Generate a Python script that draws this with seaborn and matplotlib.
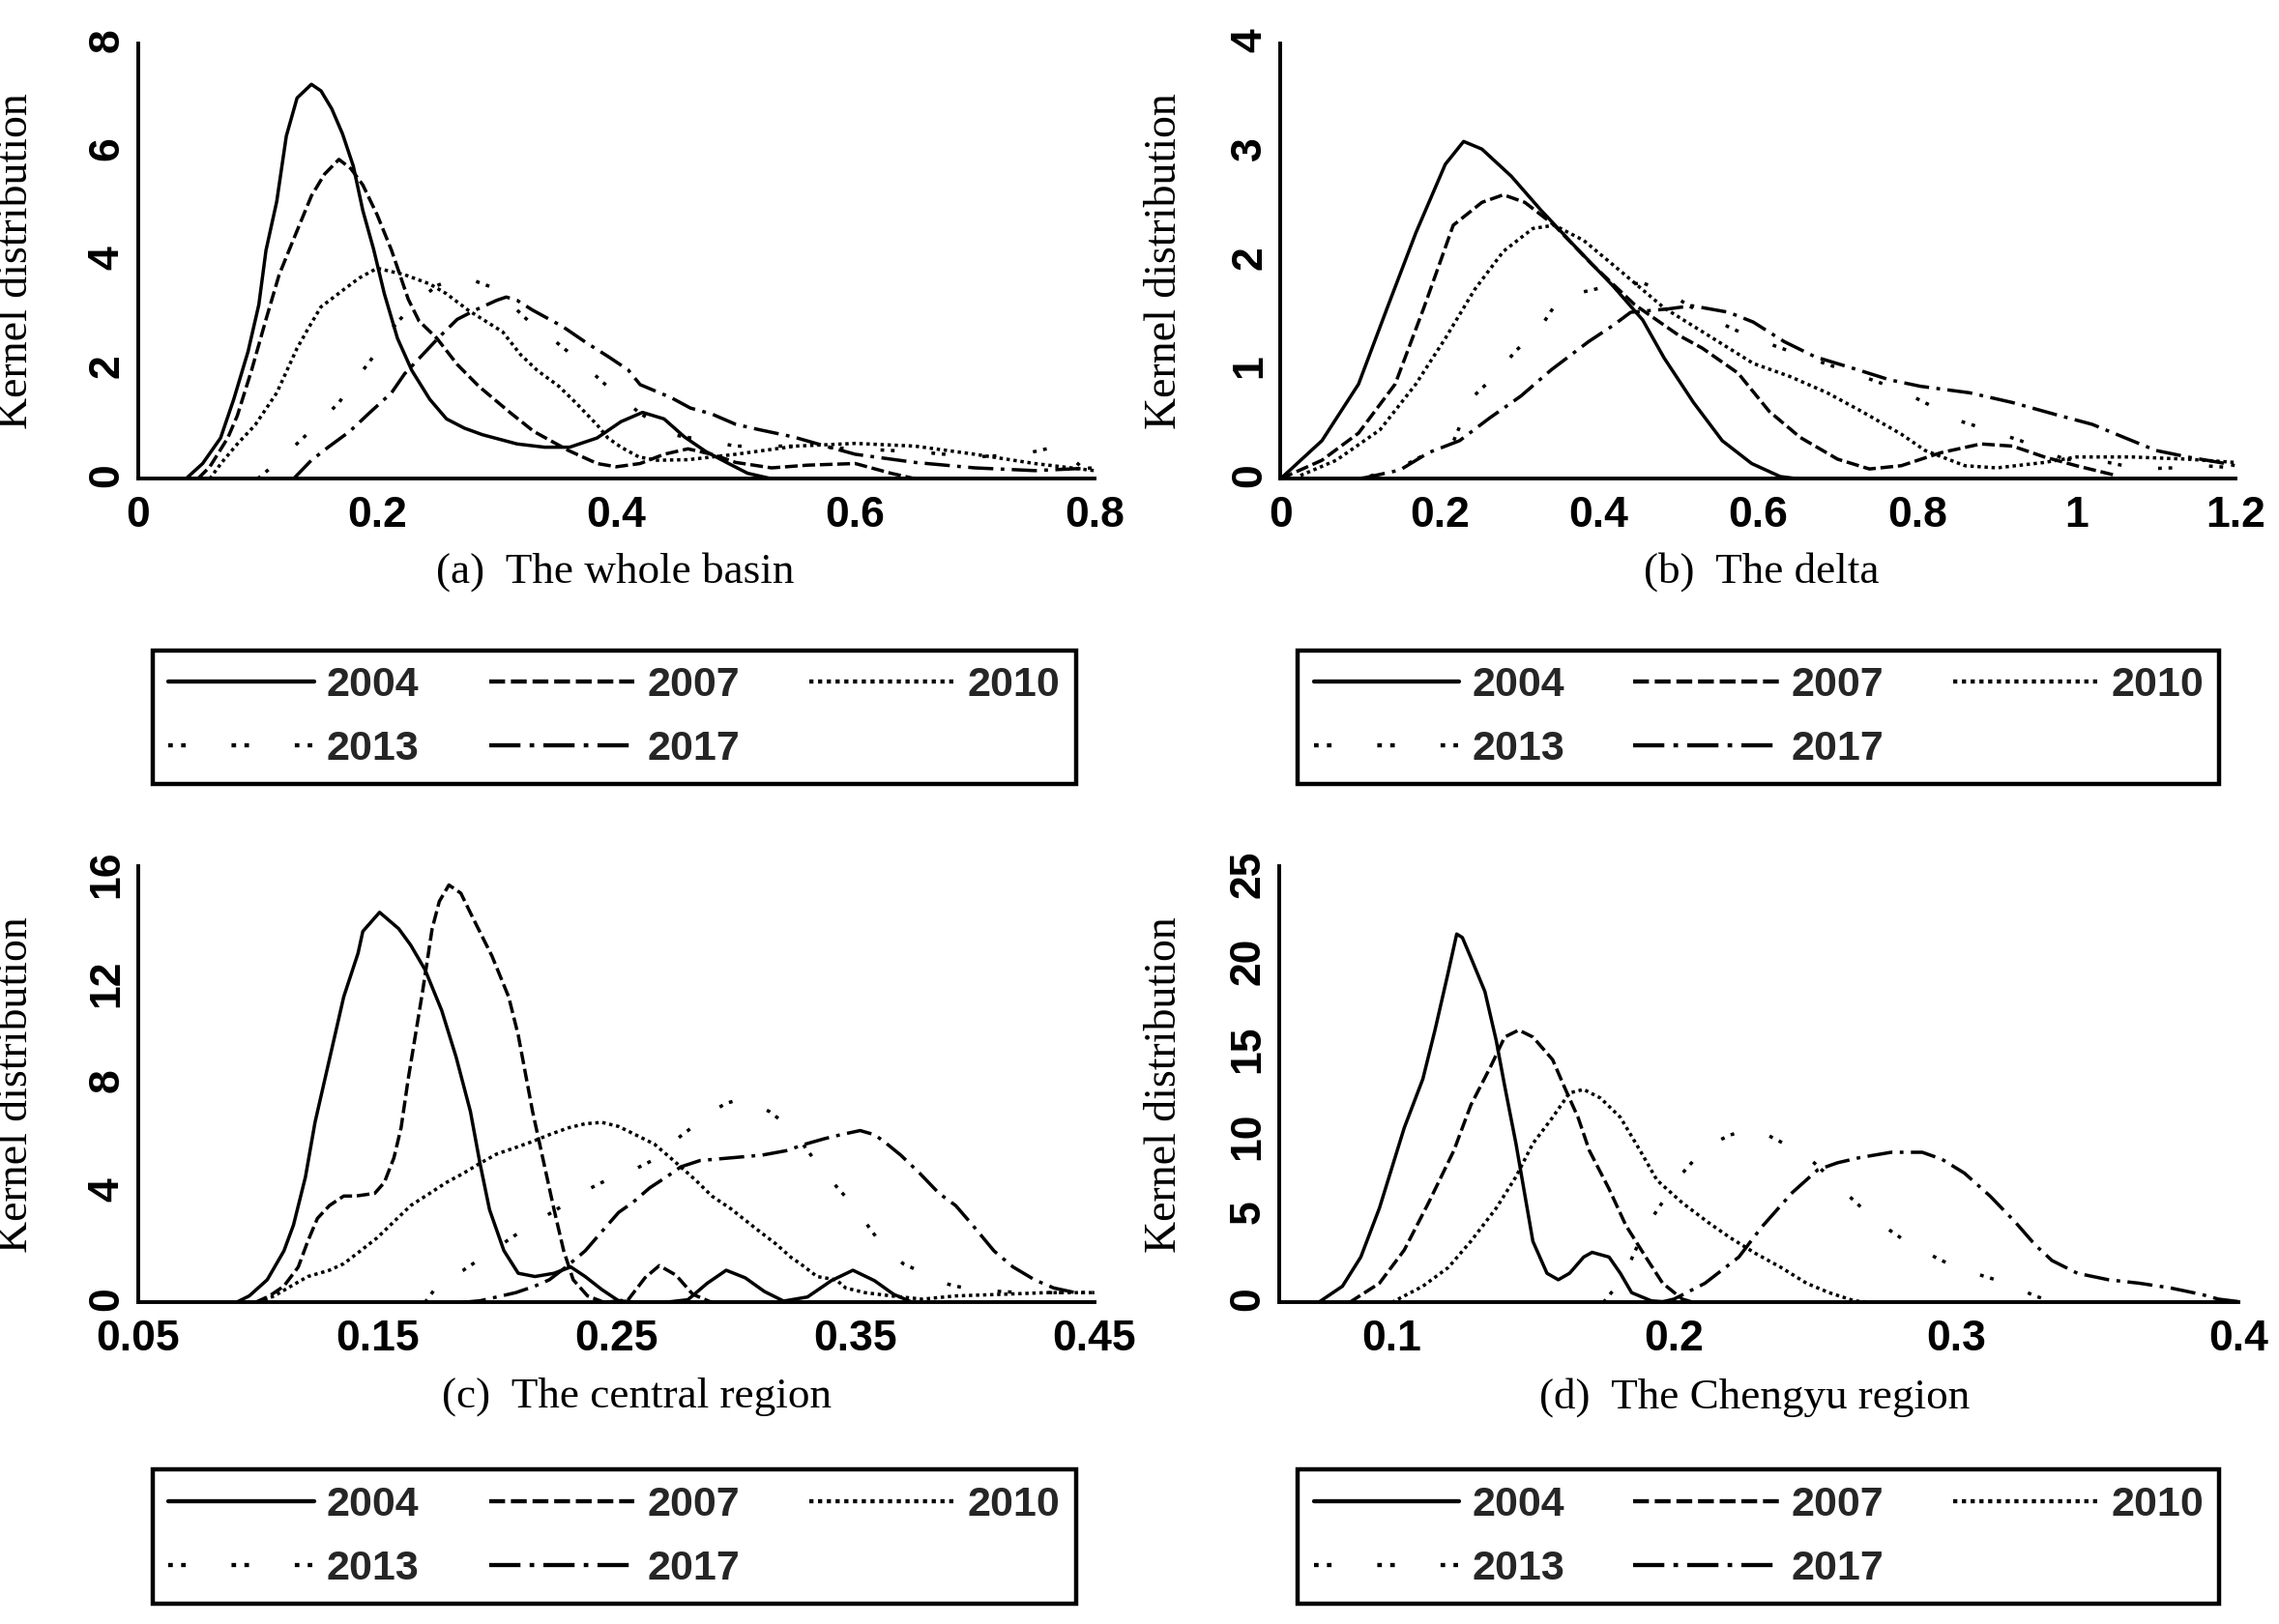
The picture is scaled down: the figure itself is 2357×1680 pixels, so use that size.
import numpy as np
import pandas as pd
import matplotlib
matplotlib.use("Agg")
import matplotlib.pyplot as plt
from matplotlib.lines import Line2D
from matplotlib.ticker import FormatStrFormatter
import seaborn as sns

YEARS = ["2004", "2007", "2010", "2013", "2017"]

# ---------------- (a) The whole basin ----------------
a04_x = [0.04,0.054,0.069,0.08,0.092,0.101,0.107,0.116,0.124,0.133,0.145,0.153,0.162,0.171,0.18,0.188,0.197,0.206,0.217,0.229,0.244,0.258,0.273,0.288,0.317,0.34,0.361,0.384,0.404,0.422,0.44,0.457,0.475,0.494,0.51,0.53]
a04_y = [0,0.28,0.75,1.46,2.34,3.2,4.2,5.1,6.3,7.0,7.25,7.13,6.8,6.34,5.75,4.93,4.22,3.4,2.58,1.99,1.46,1.1,0.93,0.81,0.64,0.58,0.58,0.75,1.05,1.22,1.1,0.77,0.5,0.28,0.1,0]
a07_x = [0.05,0.06,0.075,0.083,0.095,0.107,0.118,0.13,0.145,0.156,0.168,0.178,0.188,0.2,0.212,0.226,0.235,0.25,0.267,0.285,0.311,0.331,0.36,0.384,0.4,0.42,0.44,0.46,0.48,0.5,0.53,0.56,0.6,0.63,0.65]
a07_y = [0,0.22,0.75,1.16,2.0,2.93,3.75,4.4,5.2,5.6,5.87,5.7,5.4,4.85,4.2,3.3,2.9,2.58,2.1,1.7,1.22,0.87,0.52,0.28,0.22,0.28,0.45,0.55,0.45,0.3,0.2,0.25,0.28,0.1,0]
a10_x = [0.06,0.07,0.083,0.098,0.116,0.133,0.142,0.153,0.171,0.185,0.2,0.223,0.244,0.258,0.276,0.305,0.32,0.334,0.352,0.366,0.384,0.393,0.404,0.419,0.434,0.46,0.5,0.55,0.6,0.65,0.7,0.75,0.8]
a10_y = [0,0.3,0.64,0.99,1.58,2.4,2.75,3.16,3.46,3.69,3.87,3.75,3.58,3.4,3.1,2.7,2.28,1.99,1.7,1.4,0.99,0.75,0.58,0.4,0.34,0.35,0.45,0.6,0.65,0.6,0.45,0.28,0.15]
a13_x = [0.1,0.112,0.127,0.15,0.168,0.188,0.2,0.212,0.23,0.25,0.267,0.28,0.296,0.31,0.328,0.346,0.37,0.39,0.42,0.45,0.5,0.55,0.6,0.65,0.7,0.74,0.77,0.79]
a13_y = [0,0.22,0.52,1.0,1.4,1.99,2.34,2.75,3.2,3.55,3.7,3.65,3.52,3.25,2.87,2.58,2.15,1.75,1.2,0.8,0.6,0.6,0.55,0.5,0.4,0.45,0.6,0.2]
a17_x = [0.13,0.145,0.159,0.177,0.194,0.212,0.223,0.238,0.253,0.267,0.282,0.3,0.308,0.317,0.33,0.355,0.375,0.393,0.41,0.42,0.446,0.462,0.48,0.5,0.52,0.548,0.575,0.6,0.65,0.7,0.75,0.8]
a17_y = [0,0.34,0.58,0.87,1.22,1.58,1.93,2.28,2.63,2.93,3.1,3.28,3.34,3.28,3.1,2.8,2.5,2.25,2.0,1.73,1.49,1.3,1.19,1.0,0.9,0.77,0.6,0.45,0.3,0.2,0.15,0.2]

# ---------------- (b) The delta ----------------
b04_x = [0,0.052,0.098,0.134,0.17,0.207,0.23,0.253,0.29,0.327,0.372,0.418,0.455,0.482,0.519,0.555,0.592,0.628,0.65]
b04_y = [0,0.35,0.87,1.57,2.26,2.89,3.1,3.03,2.78,2.47,2.12,1.77,1.46,1.11,0.7,0.35,0.14,0.02,0]
b07_x = [0,0.052,0.098,0.144,0.18,0.217,0.253,0.28,0.307,0.344,0.39,0.445,0.5,0.53,0.575,0.614,0.653,0.7,0.74,0.78,0.83,0.88,0.92,0.96,1.0,1.05]
b07_y = [0,0.17,0.42,0.87,1.57,2.33,2.54,2.61,2.54,2.33,1.98,1.6,1.32,1.2,0.97,0.62,0.38,0.18,0.09,0.12,0.24,0.32,0.3,0.2,0.12,0.03]
b10_x = [0.025,0.07,0.125,0.17,0.207,0.244,0.28,0.317,0.344,0.381,0.427,0.482,0.537,0.594,0.64,0.687,0.73,0.78,0.81,0.86,0.9,0.96,1.0,1.07,1.14,1.2]
b10_y = [0.03,0.17,0.45,0.87,1.29,1.74,2.09,2.3,2.33,2.19,1.91,1.57,1.32,1.06,0.94,0.79,0.62,0.41,0.26,0.12,0.1,0.15,0.2,0.2,0.18,0.15]
b13_x = [0.1,0.15,0.186,0.217,0.24,0.27,0.296,0.323,0.347,0.37,0.4,0.43,0.455,0.49,0.513,0.567,0.614,0.66,0.72,0.777,0.815,0.854,0.893,0.93,0.985,1.04,1.08,1.12,1.16,1.2]
b13_y = [0,0.1,0.24,0.34,0.74,0.95,1.18,1.35,1.62,1.7,1.75,1.78,1.8,1.7,1.59,1.38,1.24,1.12,0.97,0.82,0.68,0.53,0.44,0.35,0.18,0.15,0.09,0.1,0.12,0.1]
b17_x = [0.1,0.15,0.186,0.225,0.263,0.302,0.34,0.387,0.418,0.44,0.486,0.517,0.563,0.594,0.633,0.672,0.726,0.765,0.804,0.866,0.92,0.974,1.02,1.06,1.1,1.14,1.18,1.2]
b17_y = [0,0.08,0.24,0.35,0.56,0.76,1.0,1.26,1.41,1.53,1.56,1.59,1.53,1.44,1.26,1.12,1.0,0.91,0.85,0.79,0.7,0.59,0.5,0.38,0.26,0.2,0.15,0.12]

# ---------------- (c) The central region ----------------
c04_x = [0.091,0.0965,0.104,0.111,0.115,0.12,0.124,0.13,0.136,0.142,0.144,0.151,0.159,0.164,0.17,0.177,0.183,0.189,0.193,0.197,0.203,0.209,0.216,0.224,0.231,0.237,0.244,0.251,0.26,0.27,0.28,0.288,0.296,0.304,0.312,0.32,0.33,0.34,0.349,0.358,0.366,0.374]
c04_y = [0,0.24,0.83,1.89,2.84,4.6,6.6,8.9,11.2,12.8,13.6,14.3,13.7,13.1,12.2,10.7,9.0,7.0,5.1,3.4,1.9,1.07,0.95,1.07,1.3,0.95,0.47,0.06,0,0,0.1,0.7,1.18,0.9,0.4,0.05,0.2,0.8,1.18,0.8,0.3,0]
c07_x = [0.099,0.105,0.111,0.117,0.121,0.125,0.13,0.136,0.141,0.149,0.153,0.157,0.16,0.163,0.166,0.169,0.173,0.176,0.18,0.185,0.19,0.198,0.205,0.209,0.212,0.215,0.218,0.221,0.224,0.228,0.232,0.238,0.245,0.255,0.262,0.268,0.275,0.282,0.29]
c07_y = [0,0.24,0.6,1.3,2.25,3.08,3.55,3.9,3.9,4.0,4.4,5.3,6.4,8.2,9.8,11.4,13.7,14.7,15.3,15.0,14.1,12.7,11.2,9.8,8.4,7.0,5.8,4.6,3.4,1.9,0.83,0.24,0,0.1,0.9,1.35,1.0,0.3,0]
c10_x = [0.1,0.107,0.114,0.121,0.13,0.136,0.143,0.15,0.157,0.164,0.172,0.179,0.186,0.193,0.2,0.208,0.215,0.222,0.23,0.237,0.244,0.251,0.258,0.266,0.274,0.283,0.29,0.298,0.303,0.31,0.317,0.323,0.327,0.334,0.342,0.346,0.354,0.365,0.378,0.392,0.412,0.43,0.45]
c10_y = [0,0.24,0.6,0.95,1.18,1.42,1.89,2.37,2.96,3.55,4.0,4.4,4.73,5.1,5.44,5.68,5.9,6.15,6.4,6.55,6.6,6.45,6.15,5.8,5.2,4.5,3.9,3.43,3.08,2.6,2.13,1.66,1.42,0.95,0.83,0.53,0.36,0.24,0.12,0.24,0.3,0.36,0.36]
c13_x = [0.17,0.177,0.186,0.2,0.214,0.225,0.235,0.244,0.257,0.265,0.271,0.28,0.29,0.296,0.302,0.307,0.314,0.323,0.334,0.342,0.348,0.352,0.361,0.37,0.376,0.387,0.392,0.4,0.42,0.44,0.45]
c13_y = [0,0.83,1.18,2.0,2.84,3.4,4.0,4.4,4.85,5.2,5.7,6.3,7.0,7.3,7.45,7.3,7.0,6.4,5.1,4.26,3.67,3.2,2.13,1.42,1.18,0.71,0.6,0.45,0.36,0.36,0.3]
c17_x = [0.185,0.193,0.208,0.216,0.222,0.229,0.237,0.244,0.251,0.257,0.264,0.271,0.277,0.285,0.298,0.311,0.321,0.329,0.337,0.344,0.352,0.358,0.362,0.369,0.377,0.385,0.392,0.399,0.408,0.416,0.425,0.433,0.442,0.45]
c17_y = [0,0.06,0.36,0.6,0.83,1.3,1.89,2.6,3.3,3.67,4.2,4.6,4.97,5.2,5.3,5.4,5.56,5.8,6.0,6.15,6.3,6.15,5.9,5.4,4.73,4.0,3.55,2.84,1.89,1.3,0.83,0.53,0.36,0.36]

# ---------------- (d) The Chengyu region ----------------
d04_x = [0.074,0.0825,0.089,0.0956,0.1044,0.111,0.1153,0.1197,0.123,0.125,0.1284,0.133,0.137,0.14,0.144,0.147,0.15,0.155,0.159,0.163,0.168,0.171,0.177,0.181,0.185,0.192,0.2]
d04_y = [0,0.93,2.6,5.4,10.0,12.8,15.6,18.7,21.1,20.9,19.6,17.8,15.0,12.4,9.1,6.3,3.5,1.67,1.3,1.67,2.6,2.87,2.6,1.67,0.56,0.09,0]
d07_x = [0.085,0.0956,0.1044,0.113,0.122,0.128,0.135,0.14,0.145,0.15,0.157,0.161,0.166,0.17,0.177,0.183,0.19,0.196,0.203,0.207]
d07_y = [0,1.1,3.0,5.7,8.7,11.3,13.5,15.2,15.6,15.2,13.9,12.4,10.6,8.7,6.5,4.4,2.6,1.1,0.19,0]
d10_x = [0.1,0.111,0.12,0.128,0.137,0.144,0.15,0.157,0.163,0.168,0.174,0.181,0.188,0.194,0.203,0.212,0.22,0.229,0.238,0.247,0.255,0.264,0.27]
d10_y = [0,0.93,2.0,3.5,5.4,7.2,9.1,10.6,12.0,12.2,11.7,10.6,8.7,7.0,5.7,4.6,3.7,2.8,2.0,1.1,0.56,0.09,0]
d13_x = [0.175,0.18,0.185,0.19,0.197,0.203,0.209,0.215,0.22,0.227,0.233,0.239,0.244,0.249,0.255,0.262,0.268,0.275,0.284,0.29,0.3,0.314,0.322,0.328,0.335]
d13_y = [0,1.0,2.5,4.3,6.0,7.4,8.5,9.2,9.6,9.9,9.6,9.1,8.7,8.1,7.2,6.1,5.2,4.3,3.3,2.8,2.0,1.3,0.8,0.37,0]
d17_x = [0.195,0.2,0.211,0.223,0.231,0.242,0.251,0.258,0.266,0.277,0.288,0.295,0.303,0.312,0.321,0.328,0.334,0.343,0.354,0.365,0.376,0.387,0.393,0.4]
d17_y = [0,0.19,1.1,2.6,4.3,6.3,7.6,8.0,8.3,8.6,8.6,8.2,7.4,6.1,4.6,3.3,2.4,1.67,1.3,1.1,0.83,0.46,0.19,0.05]

CAPTIONS = ["(a)  The whole basin", "(b)  The delta", "(c)  The central region", "(d)  The Chengyu region"]
XTICKS = [[0, 0.2, 0.4, 0.6, 0.8], [0, 0.2, 0.4, 0.6, 0.8, 1, 1.2],
          [0.05, 0.15, 0.25, 0.35, 0.45], [0.1, 0.2, 0.3, 0.4]]
YTICKS = [[0, 2, 4, 6, 8], [0, 1, 2, 3, 4], [0, 4, 8, 12, 16], [0, 5, 10, 15, 20, 25]]
XLIMS = [(0, 0.8), (0, 1.2), (0.05, 0.45), (0.06, 0.4)]
YLIMS = [(0, 8), (0, 4), (0, 16), (0, 25)]

PANELS = [
    [(a04_x, a04_y), (a07_x, a07_y), (a10_x, a10_y), (a13_x, a13_y), (a17_x, a17_y)],
    [(b04_x, b04_y), (b07_x, b07_y), (b10_x, b10_y), (b13_x, b13_y), (b17_x, b17_y)],
    [(c04_x, c04_y), (c07_x, c07_y), (c10_x, c10_y), (c13_x, c13_y), (c17_x, c17_y)],
    [(d04_x, d04_y), (d07_x, d07_y), (d10_x, d10_y), (d13_x, d13_y), (d17_x, d17_y)],
]

DASHES = {"2004": "", "2007": (3.8, 1.4), "2010": (1.0, 1.1),
          "2013": (1.1, 2.0, 1.1, 11), "2017": (7.5, 2.2, 1.1, 2.2)}

sns.set_theme(style="white")
SANS = ["Liberation Sans Narrow", "Liberation Sans", "DejaVu Sans"]
SERIF = ["Liberation Serif", "DejaVu Serif"]
plt.rcParams["font.family"] = SANS

fig = plt.figure(figsize=(23.57, 16.8), dpi=100)

AX_POS = [[0.0606, 0.7052, 0.4196, 0.268], [0.5619, 0.7052, 0.4190, 0.268],
          [0.0606, 0.198, 0.4196, 0.2688], [0.5612, 0.198, 0.4209, 0.2688]]
YLAB_X = [-0.106, -0.100, -0.106, -0.098]
CAP_POS = [(0.2698, 0.6478), (0.773, 0.6478), (0.2793, 0.1398), (0.770, 0.1398)]
LEG_BOX = [(0.067, 0.5188, 0.405, 0.0807), (0.5695, 0.5188, 0.4043, 0.0807),
           (0.067, 0.0125, 0.405, 0.0825), (0.5695, 0.0125, 0.4043, 0.0825)]

LW = 2.5
for i in range(4):
    ax = fig.add_axes(AX_POS[i])
    frames = []
    for yr, (xs, ys) in zip(YEARS, PANELS[i]):
        n = min(len(xs), len(ys))
        frames.append(pd.DataFrame({"x": xs[:n], "y": ys[:n], "year": yr}))
    df = pd.concat(frames, ignore_index=True)
    sns.lineplot(data=df, x="x", y="y", style="year", style_order=YEARS,
                 dashes=DASHES, color="black", linewidth=LW, estimator=None,
                 sort=False, legend=False, ax=ax)
    ax.set_xlim(*XLIMS[i])
    ax.set_ylim(*YLIMS[i])
    ax.set_xticks(XTICKS[i])
    ax.set_yticks(YTICKS[i])
    ax.xaxis.set_major_formatter(FormatStrFormatter("%g"))
    ax.yaxis.set_major_formatter(FormatStrFormatter("%g"))
    for s in ["top", "right"]:
        ax.spines[s].set_visible(False)
    for s in ["left", "bottom"]:
        ax.spines[s].set_linewidth(2.8)
        ax.spines[s].set_color("black")
    ax.tick_params(axis="both", direction="in", length=9, width=2.4,
                   labelsize=32, colors="black")
    ax.tick_params(axis="x", pad=13)
    ax.tick_params(axis="y", pad=8, labelrotation=90)
    for lab in ax.get_xticklabels() + ax.get_yticklabels():
        lab.set_fontweight("bold")
        lab.set_family(SANS)
    ax.set_xlabel("")
    ax.set_ylabel("Kernel distribution", family=SERIF, fontsize=33, color="black")
    ax.yaxis.set_label_coords(YLAB_X[i], 0.5)
    ax.set_facecolor("white")

    fig.text(CAP_POS[i][0], CAP_POS[i][1], CAPTIONS[i], ha="center", va="center",
             family=SERIF, fontsize=32.5, color="black")

    handles = {yr: Line2D([], [], color="black", linewidth=LW + 0.6,
                          dashes=DASHES[yr] if DASHES[yr] else (None, None))
               for yr in YEARS}
    order = ["2004", "2013", "2007", "2017", "2010"]
    leg = fig.legend([handles[y] for y in order], order, ncol=3, loc="upper left",
                     bbox_to_anchor=LEG_BOX[i], mode="expand", frameon=True,
                     fancybox=False, edgecolor="black", framealpha=1,
                     prop={"family": SANS, "weight": "bold", "size": 31},
                     handlelength=3.5, handletextpad=0.3, labelspacing=0.6,
                     borderpad=0.38, borderaxespad=0)
    leg.get_frame().set_linewidth(3.2)

fig.savefig("out.png", dpi=100, facecolor="white")
